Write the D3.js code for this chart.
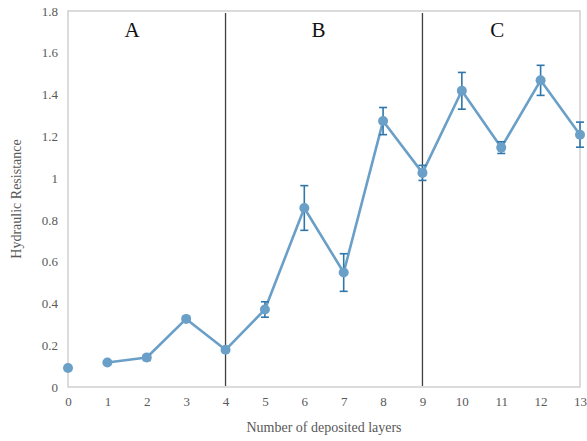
<!DOCTYPE html>
<html><head><meta charset="utf-8">
<script src="https://cdn.jsdelivr.net/npm/d3@7"></script>
<style>body{margin:0;background:#fff}svg{display:block}</style>
</head><body>
<svg id="c" width="587" height="441"></svg>
<script>
const layers = [0,1,2,3,4,5,6,7,8,9,10,11,12,13];
const resistance = [0.091,0.117,0.141,0.326,0.178,0.371,0.857,0.548,1.273,1.025,1.418,1.146,1.468,1.208];
const errors = [0,0,0.014,0.008,0.008,0.037,0.107,0.09,0.065,0.036,0.088,0.028,0.072,0.06];
const yTicks = [0,0.2,0.4,0.6,0.8,1,1.2,1.4,1.6,1.8];
const dividers = [4,9];
const regionLabels = ["A","B","C"];
const regionCenters = [1.63,6.36,10.9];

const svg = d3.select("#c");
const L=68,R=580,T=11,B=387;
const x = d3.scaleLinear().domain([0,13]).range([L,R]);
const y = d3.scaleLinear().domain([0,1.8]).range([B,T]);
const font = "'Liberation Serif','Times New Roman',serif";
const grey="#595959", axisCol="#d0d0d0";

// box
svg.append("rect").attr("x",L).attr("y",T).attr("width",R-L).attr("height",B-T)
  .attr("fill","none").attr("stroke",axisCol).attr("stroke-width",1.5);

// x axis
const xa = d3.axisBottom(x).tickValues(layers).tickSize(0).tickPadding(10).tickFormat(d3.format("d"));
const gx = svg.append("g").attr("transform",`translate(0,${B})`).call(xa);
gx.select(".domain").remove();
gx.selectAll("text").attr("fill",grey).style("font-family",font).style("font-size","13px");

const ya = d3.axisLeft(y).tickValues(yTicks).tickSize(0).tickPadding(10).tickFormat(d=>d3.format("")(d));
const gy = svg.append("g").attr("transform",`translate(${L},0)`).call(ya);
gy.select(".domain").remove();
gy.selectAll("text").attr("fill",grey).style("font-family",font).style("font-size","13px");

// dividers
svg.selectAll(".div").data(dividers).enter().append("line")
  .attr("x1",d=>x(d)).attr("x2",d=>x(d)).attr("y1",T+2).attr("y2",B-1)
  .attr("stroke","#404040").attr("stroke-width",1.3);

// region labels
svg.selectAll(".rl").data(regionLabels).enter().append("text")
  .attr("x",(d,i)=>x(regionCenters[i])).attr("y",37).attr("text-anchor","middle")
  .style("font-family",font).style("font-size","21px").attr("fill","#111").text(d=>d);

// line (from layer 1 onwards)
const pts = layers.map((l,i)=>({l,v:resistance[i],e:errors[i]}));
const lineGen = d3.line().x(d=>x(d.l)).y(d=>y(d.v));
svg.append("path").datum(pts.slice(1)).attr("d",lineGen)
  .attr("fill","none").attr("stroke","#6a9fc8").attr("stroke-width",2.6).attr("stroke-linejoin","round");

// error bars
const eb = svg.selectAll(".eb").data(pts.filter(d=>d.e>0)).enter().append("g").attr("stroke","#2f77aa").attr("stroke-width",1.6);
eb.append("line").attr("x1",d=>x(d.l)).attr("x2",d=>x(d.l)).attr("y1",d=>y(d.v+d.e)).attr("y2",d=>y(d.v-d.e));
eb.append("line").attr("x1",d=>x(d.l)-4).attr("x2",d=>x(d.l)+4).attr("y1",d=>y(d.v+d.e)).attr("y2",d=>y(d.v+d.e));
eb.append("line").attr("x1",d=>x(d.l)-4).attr("x2",d=>x(d.l)+4).attr("y1",d=>y(d.v-d.e)).attr("y2",d=>y(d.v-d.e));

// markers
svg.selectAll(".pt").data(pts).enter().append("circle")
  .attr("cx",d=>x(d.l)).attr("cy",d=>y(d.v)).attr("r",5).attr("fill","#6a9fc8");

// axis titles
svg.append("text").attr("x",(L+R)/2).attr("y",432).attr("text-anchor","middle")
  .attr("fill",grey).style("font-family",font).style("font-size","14px").text("Number of deposited layers");
svg.append("text").attr("transform",`translate(21,${(T+B)/2}) rotate(-90)`).attr("text-anchor","middle")
  .attr("fill",grey).style("font-family",font).style("font-size","14px").text("Hydraulic Resistance");
</script>
</body></html>
